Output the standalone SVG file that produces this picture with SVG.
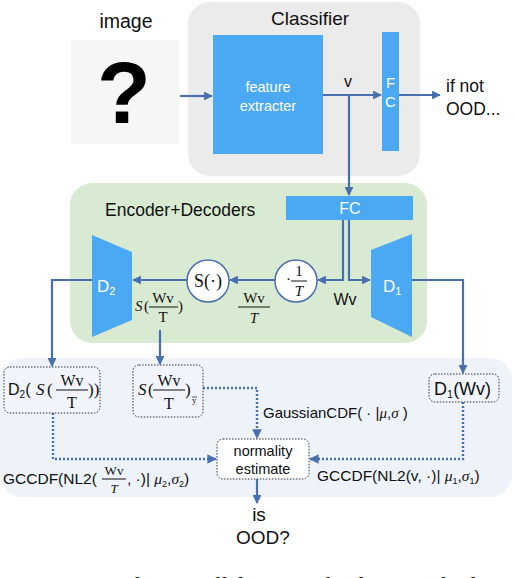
<svg xmlns="http://www.w3.org/2000/svg" width="516" height="578" viewBox="0 0 516 578">
<defs>
<marker id="ah" viewBox="0 0 10 10" refX="9" refY="5" markerWidth="4" markerHeight="4" orient="auto"><path d="M0,0 L10,5 L0,10 z" fill="#4a6fae"/></marker>
<style>
.s{font-family:"Liberation Sans",Arial,sans-serif;fill:#111}
.m{font-family:"Liberation Serif","Times New Roman",serif;fill:#111}
.gi{font-family:"Liberation Serif","Times New Roman",serif;font-style:italic}
.i{font-style:italic}
.w{fill:#fff}
.blue{fill:#4aa9f2}
.ln{stroke:#4a6fae;stroke-width:2.2;fill:none}
.dl{stroke:#4a6fae;stroke-width:2.4;fill:none;stroke-dasharray:2 2}
.bx{fill:#f1f5fb;stroke:#333;stroke-width:1;stroke-dasharray:1.5 1.5}
.fr{stroke:#111;stroke-width:1}
</style>
</defs>
<rect width="516" height="578" fill="#fff"/>
<rect id="classifier" x="188" y="2" width="232" height="174" rx="22" fill="#ebebeb"/>
<rect id="encdec" x="70" y="183" width="357" height="160" rx="22" fill="#d9ead3"/>
<rect id="bottom" x="0" y="358" width="512" height="139" rx="22" fill="#eef3fa"/>
<g id="image">
<text class="s" x="126" y="28" font-size="19.5" text-anchor="middle">image</text>
<rect x="71" y="40" width="108" height="104" fill="#f5f6f6"/>
<text x="124" y="123" font-family="Liberation Sans,Arial,sans-serif" font-weight="bold" font-size="88" text-anchor="middle" fill="#000">?</text>
</g>
<text class="s" x="310" y="25" font-size="19" text-anchor="middle">Classifier</text>
<g id="fe">
<rect class="blue" x="213" y="35" width="110" height="119"/>
<text class="s w" x="268" y="92" font-size="14.5" text-anchor="middle">feature</text>
<text class="s w" x="268" y="111" font-size="14.5" text-anchor="middle">extracter</text>
</g>
<g id="fc1">
<rect class="blue" x="382" y="32" width="17" height="119"/>
<text class="s w" x="390.5" y="88" font-size="15" text-anchor="middle">F</text>
<text class="s w" x="390.5" y="107" font-size="15" text-anchor="middle">C</text>
</g>
<text class="s" x="348" y="87" font-size="16" text-anchor="middle">v</text>
<text class="s" x="446" y="92" font-size="17.5">if not</text>
<text class="s" x="446" y="115" font-size="17.5">OOD...</text>
<text class="s" x="105" y="216" font-size="17.5">Encoder+Decoders</text>
<g id="fc2">
<rect class="blue" x="286" y="196" width="127" height="24"/>
<text class="s w" x="350" y="214" font-size="16" text-anchor="middle">FC</text>
</g>
<g id="d1">
<polygon class="blue" points="371,250 412,234 412,337 371,317"/>
<text class="s w" x="383" y="292" font-size="17">D<tspan font-size="11" dy="3">1</tspan></text>
</g>
<g id="d2">
<polygon class="blue" points="92,235 132,252 132,320 92,337"/>
<text class="s w" x="97" y="292" font-size="17">D<tspan font-size="11" dy="3">2</tspan></text>
</g>
<g id="invT">
<circle cx="296" cy="281" r="21" fill="#fff" stroke="#4a6fae" stroke-width="1.5"/>
<text class="m" x="286" y="284" font-size="15">·</text>
<text class="m" x="299" y="276" font-size="15" text-anchor="middle">1</text>
<line class="fr" x1="291" y1="281" x2="307" y2="281"/>
<text class="m i" x="299" y="296" font-size="15" text-anchor="middle">T</text>
</g>
<g id="softmax">
<circle cx="208" cy="281" r="21" fill="#fff" stroke="#4a6fae" stroke-width="1.5"/>
<text class="m" x="208" y="287" font-size="18" text-anchor="middle">S(·)</text>
</g>
<text class="s" x="345" y="305" font-size="16" text-anchor="middle">Wv</text>
<g id="lblWvT">
<text class="m" x="254" y="303" font-size="15" text-anchor="middle">Wv</text>
<line class="fr" x1="238" y1="307" x2="270" y2="307"/>
<text class="m i" x="254" y="323" font-size="15" text-anchor="middle">T</text>
</g>
<g id="lblSWvT">
<text class="m i" x="135" y="311" font-size="15">S</text>
<text class="m" x="144" y="311" font-size="15">(</text>
<text class="m" x="163" y="303" font-size="15" text-anchor="middle">Wv</text>
<line class="fr" x1="149" y1="307" x2="178" y2="307"/>
<text class="m" x="163" y="322" font-size="15" text-anchor="middle">T</text>
<text class="m" x="178" y="311" font-size="15">)</text>
</g>
<g id="boxD2">
<rect class="bx" x="4" y="367" width="96" height="46" rx="6"/>
<text class="s" x="8" y="395" font-size="16">D<tspan font-size="10" dy="3">2</tspan><tspan dy="-3">(</tspan></text>
<text class="m i" x="36" y="395" font-size="17">S</text>
<text class="m" x="47" y="395" font-size="17">(</text>
<text class="m" x="72" y="386" font-size="16" text-anchor="middle">Wv</text>
<line class="fr" x1="56" y1="390" x2="88" y2="390"/>
<text class="m" x="72" y="408" font-size="16" text-anchor="middle">T</text>
<text class="m" x="88" y="395" font-size="17">))</text>
</g>
<g id="boxS">
<rect class="bx" x="133" y="365" width="70" height="52" rx="6"/>
<text class="m i" x="138" y="395" font-size="17">S</text>
<text class="m" x="148" y="395" font-size="17">(</text>
<text class="m" x="169" y="386" font-size="16" text-anchor="middle">Wv</text>
<line class="fr" x1="153" y1="390" x2="185" y2="390"/>
<text class="m" x="169" y="409" font-size="16" text-anchor="middle">T</text>
<text class="m" x="185" y="395" font-size="17">)</text>
<text class="m" x="192" y="403" font-size="9">y</text>
<line x1="192" y1="397" x2="197" y2="397" stroke="#111" stroke-width="0.7"/>
</g>
<g id="boxD1">
<rect class="bx" x="429" y="374" width="70" height="28" rx="6"/>
<text class="s" x="434" y="395" font-size="18">D<tspan font-size="11" dy="3">1</tspan><tspan dy="-3">(Wv)</tspan></text>
</g>
<g id="normality">
<rect x="217" y="439" width="92" height="40" rx="6" fill="#fff" stroke="#333" stroke-width="1" stroke-dasharray="1.5 1.5"/>
<text class="s" x="263" y="456" font-size="14.5" text-anchor="middle">normality</text>
<text class="s" x="263" y="474" font-size="14.5" text-anchor="middle">estimate</text>
</g>
<g id="labels">
<text class="s" x="263" y="418" font-size="15">GaussianCDF( · |<tspan class="gi">μ</tspan>,<tspan class="gi">σ</tspan> )</text>
<text class="s" x="3" y="484" font-size="15.5">GCCDF(NL2(</text>
<text class="m" x="114" y="475" font-size="13" text-anchor="middle">Wv</text>
<line class="fr" x1="102" y1="479" x2="126" y2="479"/>
<text class="m i" x="114" y="493" font-size="13" text-anchor="middle">T</text>
<text class="s" x="127" y="484" font-size="15.5">, ·)| <tspan class="gi">μ</tspan><tspan font-size="9" dy="3">2</tspan><tspan dy="-3">,</tspan><tspan class="gi">σ</tspan><tspan font-size="9" dy="3">2</tspan><tspan dy="-3">)</tspan></text>
<text class="s" x="317" y="481" font-size="15.5">GCCDF(NL2(v, ·)| <tspan class="gi">μ</tspan><tspan font-size="9" dy="3">1</tspan><tspan dy="-3">,</tspan><tspan class="gi">σ</tspan><tspan font-size="9" dy="3">1</tspan><tspan dy="-3">)</tspan></text>
<text class="s" x="259" y="521" font-size="19" text-anchor="middle">is</text>
<text class="s" x="263" y="544" font-size="19" text-anchor="middle">OOD?</text>
</g>
<text class="m" x="256" y="593" font-size="23.5" text-anchor="middle" fill="#222">Figure 2: The overall framework of our method.</text>
<g id="connectors">
<line class="ln" x1="180" y1="96" x2="212" y2="96" marker-end="url(#ah)"/>
<line class="ln" x1="323" y1="95" x2="381" y2="95" marker-end="url(#ah)"/>
<line class="ln" x1="399" y1="95" x2="440" y2="95" marker-end="url(#ah)"/>
<line class="ln" x1="349" y1="95" x2="349" y2="195" marker-end="url(#ah)"/>
<polyline class="ln" points="343,220 343,280 318,280" marker-end="url(#ah)"/>
<polyline class="ln" points="349,220 349,280 370,280" marker-end="url(#ah)"/>
<line class="ln" x1="275" y1="280" x2="230" y2="280" marker-end="url(#ah)"/>
<line class="ln" x1="187" y1="280" x2="133" y2="280" marker-end="url(#ah)"/>
<polyline class="ln" points="412,280 463,280 463,373" marker-end="url(#ah)"/>
<polyline class="ln" points="92,280 52,280 52,366" marker-end="url(#ah)"/>
<line class="ln" x1="160" y1="330" x2="160" y2="364" marker-end="url(#ah)"/>
<polyline class="dl" points="203,388 257,388 257,438" marker-end="url(#ah)"/>
<polyline class="dl" points="53,413 53,459 216,459" marker-end="url(#ah)"/>
<polyline class="dl" points="463,402 463,459 310,459" marker-end="url(#ah)"/>
<line class="ln" x1="257" y1="479" x2="257" y2="503" marker-end="url(#ah)"/>
</g>
</svg>
